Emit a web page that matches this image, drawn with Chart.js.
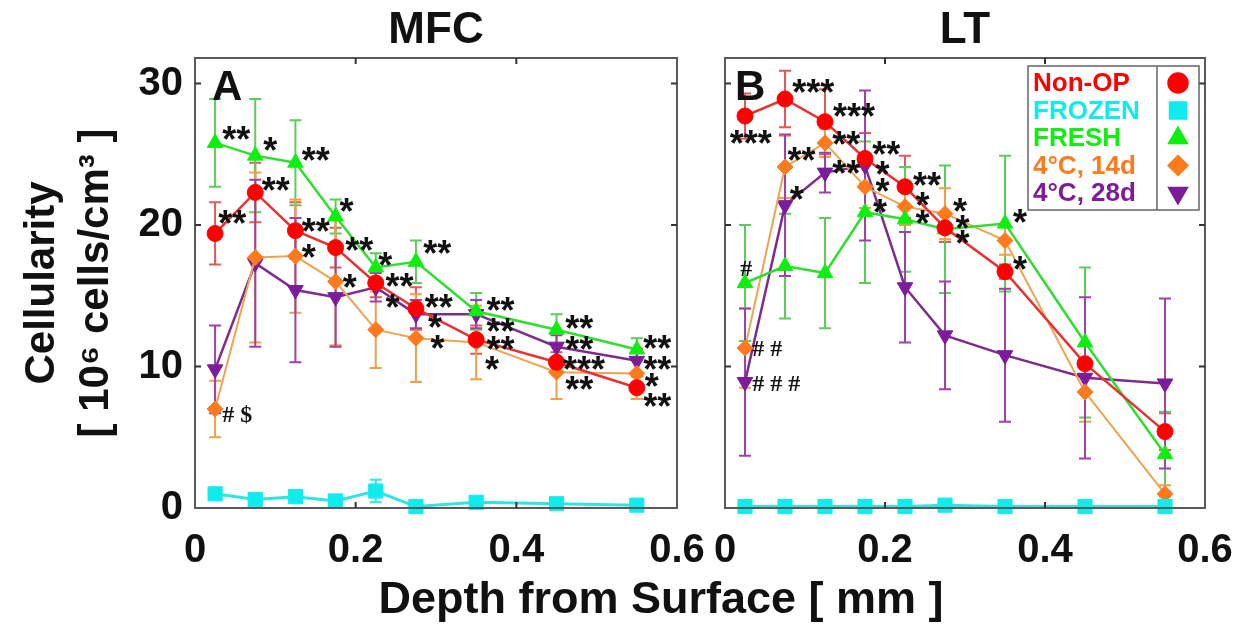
<!DOCTYPE html>
<html>
<head>
<meta charset="utf-8">
<script src="https://cdn.jsdelivr.net/npm/chart.js@4/dist/chart.umd.min.js"></script>
<style>
  html, body { margin: 0; padding: 0; background: #fff; }
  #wrap { position: relative; width: 1250px; height: 627px; overflow: hidden; }
  #boxA { position: absolute; left: 0; top: 0; }
  #boxB { position: absolute; left: 700px; top: 0; }
  #xtitle {
    position: absolute; left: 361px; top: 576px; width: 600px;
    text-align: center; font: bold 45px "Liberation Sans", Arial, sans-serif;
    line-height: 44px; color: #111; white-space: nowrap;
  }
</style>
</head>
<body>
<div id="wrap">
  <canvas id="boxA" width="720" height="627"></canvas>
  <canvas id="boxB" width="550" height="627"></canvas>
  <div id="xtitle">Depth from Surface [ mm ]</div>
</div>
<script>
// -------------------------------
// DATA
// -------------------------------
const depth = [0.025, 0.075, 0.125, 0.175, 0.225, 0.275, 0.35, 0.45, 0.55];
const seriesNames = ["Non-OP", "FROZEN", "FRESH", "4°C, 14d", "4°C, 28d"];
const xTicks = [0, 0.2, 0.4, 0.6];
const yTicks = [0, 10, 20, 30];

// panel A : MFC
const nonopA     = [19.4, 22.3, 19.6, 18.4, 15.9, 14.1, 11.9, 10.3, 8.5];
const nonopAErr  = [2.2, 2.1, 2.0, 1.4, 1.0, 1.5, 1.0, 0.7, 0.8];
const frozenA    = [1.0, 0.6, 0.8, 0.5, 1.2, 0.1, 0.4, 0.3, 0.2];
const frozenAErr = [0.3, 0.2, 0.3, 0.2, 0.8, 0.2, 0.2, 0.1, 0.1];
const freshA     = [25.8, 24.9, 24.4, 20.6, 17.0, 17.4, 13.9, 12.6, 11.2];
const freshAErr  = [3.1, 4.0, 3.0, 1.2, 1.0, 1.5, 1.3, 1.1, 0.8];
const d14A       = [7.0, 17.7, 17.8, 16.0, 12.6, 12.0, 11.7, 9.6, 9.5];
const d14AErr    = [2.0, 6.0, 4.0, 4.5, 2.7, 3.1, 2.6, 1.9, 1.8];
const d28A       = [9.8, 17.3, 15.4, 14.9, 15.6, 13.7, 13.7, 11.4, 10.4];
const d28AErr    = [3.1, 5.9, 5.1, 3.5, 1.0, 1.0, 1.0, 0.8, 0.8];

// panel B : LT
const nonopB     = [27.7, 28.9, 27.3, 24.7, 22.7, 19.8, 16.7, 10.2, 5.4];
const nonopBErr  = [1.6, 2.0, 2.3, 1.8, 2.2, 1.0, 0.5, 0.3, 1.3];
const frozenB    = [0.1, 0.1, 0.1, 0.1, 0.1, 0.2, 0.1, 0.1, 0.1];
const frozenBErr = [0, 0, 0, 0, 0, 0, 0, 0, 0];
const freshB     = [15.9, 17.1, 16.6, 20.9, 20.4, 19.7, 20.1, 11.7, 3.8];
const freshBErr  = [4.1, 3.7, 3.9, 5.0, 3.7, 4.5, 4.8, 5.3, 3.0];
const d14B       = [11.3, 24.1, 25.8, 22.7, 21.3, 20.8, 18.9, 8.2, 1.0];
const d14BErr    = [2.8, 2.2, 1.0, 1.5, 1.3, 1.8, 1.0, 2.1, 0.6];
const d28B       = [8.9, 21.4, 23.7, 24.2, 15.6, 12.2, 10.8, 9.2, 8.8];
const d28BErr    = [5.2, 5.0, 1.4, 5.3, 3.9, 3.8, 4.7, 5.7, 6.0];

// significance marks [depth, cellularity, text]
const notesA = [
  [0.034, 26.6, "**"], [0.085, 25.8, "*"], [0.133, 25.1, "**"], [0.083, 23.0, "**"],
  [0.029, 20.6, "**"], [0.180, 21.5, "*"], [0.133, 20.1, "**"], [0.187, 18.7, "**"],
  [0.133, 18.2, "*"], [0.228, 17.7, "*"], [0.184, 16.1, "*"], [0.237, 16.2, "**"],
  [0.237, 14.7, "*"], [0.284, 18.5, "**"], [0.286, 14.7, "**"], [0.290, 13.3, "*"],
  [0.293, 11.8, "*"], [0.363, 14.5, "**"], [0.363, 13.0, "**"], [0.363, 11.7, "**"],
  [0.361, 10.3, "*"], [0.461, 13.2, "**"], [0.461, 11.7, "**"], [0.458, 10.3, "***"],
  [0.461, 8.9, "**"], [0.558, 11.8, "**"], [0.558, 10.3, "**"], [0.560, 9.1, "*"],
  [0.558, 7.7, "**"], [0.034, 6.7, "# $"]
];
const notesB = [
  [0.006, 26.3, "***"], [0.084, 29.9, "***"], [0.135, 28.2, "***"], [0.134, 26.2, "**"],
  [0.078, 25.1, "**"], [0.134, 24.2, "**"], [0.184, 25.5, "**"], [0.188, 24.1, "*"],
  [0.081, 22.3, "*"], [0.188, 22.9, "*"], [0.185, 21.4, "*"], [0.235, 23.3, "**"],
  [0.238, 21.9, "*"], [0.238, 20.6, "*"], [0.285, 21.5, "*"], [0.288, 20.3, "*"],
  [0.288, 19.2, "*"], [0.360, 20.7, "*"], [0.360, 17.4, "*"], [0.019, 17.0, "#"],
  [0.034, 11.4, "# #"], [0.034, 8.9, "# # #"]
];

// -------------------------------
// STYLES
// -------------------------------
const FONT = '"Liberation Sans", Arial, Helvetica, sans-serif';
const MARK = {
  nonop:  { fill: "#ff0000", line: "#e63232", err: "#e05a5a", style: "circle",   r: 8,  rot: 0,   lw: 2.5 },
  frozen: { fill: "#10ecec", line: "#30e4e4", err: "#30e4e4", style: "rect",     r: 10, rot: 0,   lw: 3 },
  fresh:  { fill: "#10ee10", line: "#30dd30", err: "#5ccc5c", style: "triangle", r: 9,  rot: 0,   lw: 2.5 },
  d14:    { fill: "#ff7a1c", line: "#eea450", err: "#f0a048", style: "rectRot",  r: 8,  rot: 0,   lw: 2 },
  d28:    { fill: "#7c1c9a", line: "#7e2c8c", err: "#a040a8", style: "triangle", r: 9,  rot: 180, lw: 2.5 }
};

Chart.defaults.font.family = FONT;
Chart.defaults.color = "#111";

function series(label, vals, errs, mk) {
  return {
    label: label,
    data: depth.map((d, k) => ({ x: d, y: vals[k] })),
    err: errs,
    errColor: mk.err,
    borderColor: mk.line,
    borderWidth: mk.lw,
    pointStyle: mk.style,
    pointRotation: mk.rot,
    pointRadius: mk.r,
    pointBackgroundColor: mk.fill,
    pointBorderColor: mk.fill,
    pointBorderWidth: 1,
    tension: 0,
    fill: false,
    clip: false
  };
}

// no label overflow padding, the panels are placed by hand
function noPad(s) {
  s.paddingLeft = 0; s.paddingRight = 0; s.paddingTop = 0; s.paddingBottom = 0;
}

// -------------------------------
// PANEL DECORATION PLUGIN
// -------------------------------
const panelPlugin = {
  id: "panel",
  beforeDatasetsDraw(chart) {
    const ctx = chart.ctx, ys = chart.scales.y;
    chart.data.datasets.forEach((ds, i) => {
      const meta = chart.getDatasetMeta(i);
      ctx.save();
      ctx.strokeStyle = ds.errColor;
      ctx.lineWidth = 2;
      meta.data.forEach((pt, j) => {
        if (!ds.err[j]) return;
        const hi = ys.getPixelForValue(ds.data[j].y + ds.err[j]);
        const lo = ys.getPixelForValue(ds.data[j].y - ds.err[j]);
        ctx.beginPath();
        ctx.moveTo(pt.x, hi); ctx.lineTo(pt.x, lo);
        ctx.moveTo(pt.x - 6, hi); ctx.lineTo(pt.x + 6, hi);
        ctx.moveTo(pt.x - 6, lo); ctx.lineTo(pt.x + 6, lo);
        ctx.stroke();
      });
      ctx.restore();
    });
  },
  afterDatasetsDraw(chart, args, opts) {
    const ctx = chart.ctx, xs = chart.scales.x, ys = chart.scales.y;
    ctx.save();
    ctx.fillStyle = "#111";
    ctx.textAlign = "left";
    ctx.textBaseline = "alphabetic";
    opts.notes.forEach(n => {
      const px = xs.getPixelForValue(n[0]);
      const py = ys.getPixelForValue(n[1]);
      if (n[2].indexOf("*") >= 0) {
        ctx.font = "bold 36px " + FONT;
        ctx.fillText(n[2], px, py + 20);
      } else {
        ctx.font = 'bold 24px "Liberation Serif", "Times New Roman", serif';
        ctx.fillText(n[2], px, py + 9);
      }
    });
    ctx.restore();
  },
  afterDraw(chart, args, opts) {
    const ctx = chart.ctx, ca = chart.chartArea;
    const xs = chart.scales.x, ys = chart.scales.y;
    ctx.save();
    // box
    ctx.strokeStyle = "#5a5a5a";
    ctx.lineWidth = 2;
    ctx.strokeRect(ca.left, ca.top, ca.right - ca.left, ca.bottom - ca.top);
    // inner ticks
    ctx.strokeStyle = "#333";
    ctx.beginPath();
    xs.ticks.forEach(t => {
      if (t.value <= xs.min || t.value >= xs.max) return;
      const px = xs.getPixelForValue(t.value);
      ctx.moveTo(px, ca.bottom); ctx.lineTo(px, ca.bottom - 6);
      ctx.moveTo(px, ca.top); ctx.lineTo(px, ca.top + 6);
    });
    ys.ticks.forEach(t => {
      if (t.value <= ys.min || t.value >= ys.max) return;
      const py = ys.getPixelForValue(t.value);
      ctx.moveTo(ca.left, py); ctx.lineTo(ca.left + 6, py);
      ctx.moveTo(ca.right, py); ctx.lineTo(ca.right - 6, py);
    });
    ctx.stroke();
    // panel title
    ctx.fillStyle = "#111";
    ctx.font = "bold 44px " + FONT;
    ctx.textAlign = "center";
    ctx.textBaseline = "middle";
    ctx.fillText(opts.title, (ca.left + ca.right) / 2, 31);
    // panel letter
    ctx.font = "bold 42px " + FONT;
    ctx.textAlign = "left";
    ctx.textBaseline = "alphabetic";
    ctx.fillText(opts.letter, ca.left + opts.letterDx, ca.top + 42);
    // legend
    if (opts.legend) {
      const w = 171, h = 144;
      const lx = ca.right - 177, ly = ca.top + 8;
      ctx.fillStyle = "#fff";
      ctx.fillRect(lx, ly, w, h);
      ctx.strokeStyle = "#666";
      ctx.lineWidth = 1.5;
      ctx.strokeRect(lx, ly, w, h);
      ctx.beginPath();
      ctx.moveTo(lx + 129, ly); ctx.lineTo(lx + 129, ly + h);
      ctx.stroke();
      ctx.font = "bold 26px " + FONT;
      ctx.textBaseline = "middle";
      chart.data.datasets.forEach((ds, i) => {
        const cy = ly + 17 + i * 27.5;
        ctx.fillStyle = ds.pointBackgroundColor;
        ctx.fillText(ds.label, lx + 5, cy + 1);
        ctx.strokeStyle = ds.pointBorderColor;
        Chart.helpers.drawPoint(ctx, {
          pointStyle: ds.pointStyle, rotation: ds.pointRotation,
          radius: ds.pointRadius + 2, borderWidth: 1
        }, lx + 150, cy);
      });
    }
    ctx.restore();
  }
};

function makePanel(id, sets, opt) {
  return new Chart(document.getElementById(id), {
    type: "line",
    data: { datasets: sets },
    options: {
      responsive: false,
      animation: false,
      layout: { padding: { top: 58, right: opt.padRight, left: 0, bottom: 0 } },
      scales: {
        x: {
          type: "linear", min: 0, max: 0.6,
          afterBuildTicks: s => { s.ticks = xTicks.map(v => ({ value: v })); },
          ticks: {
            font: { size: 40, weight: "bold" }, color: "#111", padding: 19,
            maxRotation: 0, autoSkip: false,
            callback: v => String(Number(v.toFixed(1)))
          },
          grid: { display: false, drawTicks: false },
          border: { display: false },
          afterFit: s => { s.height = 119; noPad(s); }
        },
        y: {
          type: "linear", min: 0, max: 31.8,
          afterBuildTicks: s => { s.ticks = yTicks.map(v => ({ value: v })); },
          ticks: {
            display: opt.yLabels,
            font: { size: 40, weight: "bold" }, color: "#111", padding: 12
          },
          title: {
            display: opt.yLabels,
            text: ["Cellularity", "[ 10\u2076 cells/cm\u00B3 ]"],
            font: { size: 42, weight: "bold", lineHeight: 1.3 },
            color: "#111",
            padding: { top: 15, bottom: 0 }
          },
          grid: { display: false, drawTicks: false },
          border: { display: false },
          afterFit: s => { s.width = opt.yWidth; noPad(s); }
        }
      },
      plugins: {
        legend: { display: false },
        tooltip: { enabled: false },
        panel: { title: opt.title, letter: opt.letter, letterDx: opt.letterDx, notes: opt.notes, legend: opt.legend }
      }
    },
    plugins: [panelPlugin]
  });
}

// -------------------------------
// BUILD BOTH PANELS
// -------------------------------
const setsA = [
  series(seriesNames[0], nonopA, nonopAErr, MARK.nonop),
  series(seriesNames[1], frozenA, frozenAErr, MARK.frozen),
  series(seriesNames[2], freshA, freshAErr, MARK.fresh),
  series(seriesNames[3], d14A, d14AErr, MARK.d14),
  series(seriesNames[4], d28A, d28AErr, MARK.d28)
];
const setsB = [
  series(seriesNames[0], nonopB, nonopBErr, MARK.nonop),
  series(seriesNames[1], frozenB, frozenBErr, MARK.frozen),
  series(seriesNames[2], freshB, freshBErr, MARK.fresh),
  series(seriesNames[3], d14B, d14BErr, MARK.d14),
  series(seriesNames[4], d28B, d28BErr, MARK.d28)
];

makePanel("boxA", setsA, { title: "MFC", letter: "A", letterDx: 17, notes: notesA, legend: false, yLabels: true, yWidth: 195, padRight: 43 });
makePanel("boxB", setsB, { title: "LT", letter: "B", letterDx: 10, notes: notesB, legend: true, yLabels: false, yWidth: 25, padRight: 45 });
</script>
</body>
</html>
